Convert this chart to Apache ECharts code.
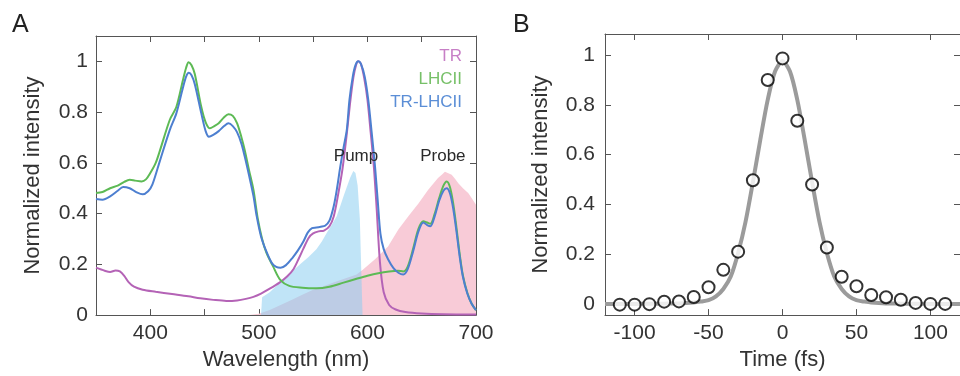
<!DOCTYPE html>
<html>
<head>
<meta charset="utf-8">
<style>
  html, body { margin: 0; padding: 0; background: #fff; }
  #chart { width: 960px; height: 376px; }
</style>
<script src="https://cdn.jsdelivr.net/npm/echarts@6/dist/echarts.min.js"></script>
</head>
<body>
<div id="chart"></div>
<script>
// ---- Panel A: absorption spectra (wavelength in nm, normalized intensity) ----
const trWl  = [350, 358, 363, 368, 372, 376, 380, 385, 393, 405, 420, 435, 446, 458, 470, 480, 488, 495, 502, 510, 519, 526, 532, 537, 541, 546, 550, 555, 560, 565, 569, 573, 577, 581, 584, 587, 589.5, 591.6, 594, 597, 600, 603, 606, 608.5, 611.5, 615, 620, 626, 635, 650, 670, 700];
const trVal = [0.187, 0.175, 0.170, 0.176, 0.172, 0.155, 0.130, 0.112, 0.100, 0.092, 0.083, 0.074, 0.066, 0.060, 0.056, 0.058, 0.064, 0.072, 0.085, 0.104, 0.128, 0.152, 0.182, 0.225, 0.262, 0.305, 0.322, 0.330, 0.333, 0.350, 0.390, 0.475, 0.575, 0.715, 0.835, 0.935, 0.985, 1.0, 0.99, 0.935, 0.85, 0.72, 0.58, 0.42, 0.21, 0.09, 0.04, 0.022, 0.012, 0.006, 0.003, 0.002];

const lhcWl  = [350, 356, 363, 370, 376, 381, 386, 392, 396, 400, 405, 409, 418, 424, 430, 433, 435.3, 438, 441, 447, 451, 455, 459, 463, 468, 472, 476, 480, 484, 487, 491, 495, 499, 503, 507, 513, 519.5, 528, 540, 553, 565, 578, 590, 600, 610, 620, 628, 633, 637, 642, 647, 651.5, 655, 658, 662, 666, 670, 673, 676, 679, 682, 685, 688, 692, 696, 700];
const lhcVal = [0.481, 0.485, 0.500, 0.510, 0.525, 0.533, 0.530, 0.527, 0.535, 0.560, 0.600, 0.650, 0.770, 0.820, 0.925, 0.975, 0.997, 0.985, 0.950, 0.820, 0.760, 0.736, 0.745, 0.756, 0.780, 0.792, 0.785, 0.756, 0.700, 0.650, 0.570, 0.494, 0.380, 0.300, 0.245, 0.193, 0.140, 0.115, 0.108, 0.106, 0.112, 0.128, 0.143, 0.155, 0.165, 0.172, 0.175, 0.172, 0.190, 0.260, 0.340, 0.370, 0.365, 0.360, 0.400, 0.460, 0.510, 0.527, 0.505, 0.440, 0.345, 0.240, 0.155, 0.088, 0.045, 0.020];

const mixWl  = [350, 356, 363, 370, 375, 381, 387, 393, 398, 402, 409, 418, 424, 430, 433, 435.5, 438, 441, 447, 451, 454, 458, 463, 468, 472, 476, 480, 484, 487, 491, 495, 498, 502, 507, 512, 516, 520, 525, 531, 536, 541, 545, 549, 553, 557, 561, 565, 569, 572, 575, 578, 581, 583.5, 586.5, 589, 591.6, 594, 597.5, 600.8, 604, 607, 609.5, 612, 615, 619, 624, 628.5, 633, 637, 642, 647, 651.5, 655, 658, 662, 666, 670, 673, 676, 679, 682, 685, 688, 692, 696, 700];
const mixVal = [0.458, 0.455, 0.468, 0.490, 0.505, 0.500, 0.485, 0.476, 0.488, 0.515, 0.610, 0.730, 0.795, 0.895, 0.940, 0.955, 0.945, 0.910, 0.795, 0.725, 0.703, 0.710, 0.725, 0.745, 0.756, 0.745, 0.720, 0.675, 0.625, 0.550, 0.470, 0.390, 0.310, 0.250, 0.205, 0.190, 0.187, 0.197, 0.226, 0.255, 0.290, 0.325, 0.343, 0.345, 0.348, 0.352, 0.372, 0.430, 0.500, 0.585, 0.660, 0.730, 0.850, 0.940, 0.985, 1.0, 0.990, 0.940, 0.847, 0.716, 0.585, 0.450, 0.320, 0.260, 0.220, 0.185, 0.167, 0.160, 0.180, 0.250, 0.330, 0.365, 0.355, 0.350, 0.390, 0.450, 0.490, 0.500, 0.480, 0.420, 0.330, 0.230, 0.150, 0.085, 0.045, 0.020];

// laser spectra drawn as filled areas
const pumpWl  = [502, 503, 510, 516, 522, 530, 538, 546, 553, 558, 562.5, 567, 571.7, 575, 578, 581, 584, 587, 589, 591, 593, 594.5, 595.5];
const pumpVal = [0, 0.07, 0.09, 0.115, 0.14, 0.17, 0.20, 0.23, 0.26, 0.29, 0.324, 0.355, 0.39, 0.43, 0.468, 0.505, 0.54, 0.568, 0.56, 0.51, 0.38, 0.15, 0];

const probeWl  = [490, 500, 510, 520, 530, 540, 550, 560, 570, 580, 590, 596, 607, 619, 628.5, 637.7, 647, 656, 665, 669, 671.4, 674, 677.6, 681, 683.7, 688, 693, 697, 700];
const probeVal = [0, 0.005, 0.02, 0.04, 0.06, 0.08, 0.10, 0.115, 0.13, 0.145, 0.16, 0.18, 0.22, 0.27, 0.337, 0.39, 0.44, 0.494, 0.54, 0.555, 0.565, 0.56, 0.553, 0.535, 0.52, 0.50, 0.48, 0.455, 0.435];

// ---- Panel B: pulse cross-correlation (time in fs) ----
const timeFs   = [-110, -100, -90, -80, -70, -60, -50, -40, -30, -20, -10, 0, 10, 20, 30, 40, 50, 60, 70, 80, 90, 100, 110];
const measured = [-0.003, -0.003, -0.001, 0.009, 0.01, 0.028, 0.067, 0.137, 0.21, 0.497, 0.90, 0.987, 0.736, 0.48, 0.227, 0.109, 0.071, 0.036, 0.027, 0.017, 0.004, 0.0, 0.0];

const fitT   = [-120, -100, -90, -80, -70, -60, -55, -50, -45, -40, -35, -30, -25, -20, -15, -10, -5, 0, 5, 10, 15, 20, 25, 30, 35, 40, 45, 50, 55, 60, 70, 80, 90, 100, 120];
const fitVal = [0, 0, 0.0005, 0.001, 0.002, 0.006, 0.01, 0.015, 0.03, 0.06, 0.11, 0.205, 0.33, 0.49, 0.66, 0.82, 0.935, 0.975, 0.935, 0.82, 0.66, 0.49, 0.33, 0.205, 0.11, 0.06, 0.03, 0.015, 0.01, 0.006, 0.002, 0.001, 0.0005, 0, 0];

const xTicksB = [-100, -50, 0, 50, 100];
const yTicks  = [0, 0.2, 0.4, 0.6, 0.8, 1];

const pairs = (xs, ys) => xs.map((x, i) => [x, ys[i]]);

const FONT = '"Liberation Sans", Arial, Helvetica, sans-serif';
const AXIS = '#555';
const TXT = '#333';

const COL_TR = '#b463b6';
const COL_LHC = '#5dba55';
const COL_MIX = '#4d7fd0';

function frameAxis(extra) {
  return Object.assign({
    type: 'value',
    axisLine: { show: true, onZero: false, lineStyle: { color: AXIS, width: 1 } },
    axisTick: { show: true, inside: true, length: 6, lineStyle: { color: AXIS, width: 1 } },
    splitLine: { show: false },
    nameTextStyle: { fontFamily: FONT, fontSize: 22, color: TXT }
  }, extra);
}
const labelStyle = { fontFamily: FONT, fontSize: 21, color: TXT };

const chart = echarts.init(document.getElementById('chart'), null, { renderer: 'canvas' });

chart.setOption({
  animation: false,
  backgroundColor: '#fff',
  title: [
    { text: 'A', left: 12, top: 13, padding: 0, textStyle: { fontFamily: FONT, fontSize: 25, fontWeight: 'normal', color: '#222' } },
    { text: 'B', left: 513, top: 13, padding: 0, textStyle: { fontFamily: FONT, fontSize: 25, fontWeight: 'normal', color: '#222' } }
  ],
  legend: {
    orient: 'vertical',
    right: 492,
    top: 48,
    padding: 0,
    align: 'right',
    itemWidth: 0,
    itemHeight: 0,
    itemGap: 6,
    selectedMode: false,
    textStyle: { fontFamily: FONT, fontSize: 17 },
    data: [
      { name: 'TR', textStyle: { color: '#c77fc6' } },
      { name: 'LHCII', textStyle: { color: '#77c068' } },
      { name: 'TR-LHCII', textStyle: { color: '#5b8ed6' } }
    ]
  },
  grid: [
    { left: 96, top: 36, width: 380, height: 280 },
    { left: 605, top: 34, width: 356, height: 282 }
  ],
  xAxis: [
    frameAxis({
      gridIndex: 0, position: 'bottom', min: 350, max: 700, interval: 50,
      axisLabel: Object.assign({ margin: 8, formatter: v => (v % 100 === 0 ? String(v) : '') }, labelStyle),
      name: 'Wavelength (nm)', nameLocation: 'middle', nameGap: 33
    }),
    frameAxis({
      gridIndex: 0, position: 'top', min: 350, max: 700, interval: 50,
      axisLabel: { show: false }
    }),
    frameAxis({
      gridIndex: 1, position: 'bottom', min: -120, max: 120,
      axisLabel: Object.assign({ margin: 8, customValues: xTicksB }, labelStyle),
      axisTick: { show: true, inside: true, length: 6, customValues: xTicksB, lineStyle: { color: AXIS, width: 1 } },
      name: 'Time (fs)', nameLocation: 'middle', nameGap: 33
    }),
    frameAxis({
      gridIndex: 1, position: 'top', min: -120, max: 120,
      axisLabel: { show: false },
      axisTick: { show: true, inside: true, length: 6, customValues: xTicksB, lineStyle: { color: AXIS, width: 1 } }
    })
  ],
  yAxis: [
    frameAxis({
      gridIndex: 0, position: 'left', min: 0, max: 1.1, interval: 0.2,
      axisLabel: Object.assign({ margin: 8, formatter: v => (v > 1.05 ? '' : String(+v.toFixed(1))) }, labelStyle),
      name: 'Normalized intensity', nameLocation: 'middle', nameGap: 52
    }),
    frameAxis({
      gridIndex: 0, position: 'right', min: 0, max: 1.1, interval: 0.2,
      axisLabel: { show: false }
    }),
    frameAxis({
      gridIndex: 1, position: 'left', min: -0.045, max: 1.085,
      axisLabel: Object.assign({ margin: 10, customValues: yTicks, formatter: v => String(+v.toFixed(1)) }, labelStyle),
      axisTick: { show: true, inside: true, length: 6, customValues: yTicks, lineStyle: { color: AXIS, width: 1 } },
      name: 'Normalized intensity', nameLocation: 'middle', nameGap: 53
    }),
    frameAxis({
      gridIndex: 1, position: 'right', min: -0.045, max: 1.085,
      axisLabel: { show: false },
      axisTick: { show: true, inside: true, length: 6, customValues: yTicks, lineStyle: { color: AXIS, width: 1 } }
    })
  ],
  series: [
    {
      name: 'Probe spectrum', type: 'line', xAxisIndex: 0, yAxisIndex: 0, z: 1,
      data: pairs(probeWl, probeVal), showSymbol: false, silent: true,
      lineStyle: { width: 0 }, areaStyle: { color: '#f8cbd7', opacity: 1 },
      markPoint: {
        symbol: 'circle', symbolSize: 0, silent: true, z: 20,
        label: { show: true, formatter: 'Probe', fontFamily: FONT, fontSize: 17, color: '#2a2a2a' },
        data: [{ coord: [669.5, 0.624] }]
      }
    },
    {
      name: 'Pump spectrum', type: 'line', xAxisIndex: 0, yAxisIndex: 0, z: 2,
      data: pairs(pumpWl, pumpVal), showSymbol: false, silent: true,
      lineStyle: { width: 0 }, areaStyle: { color: 'rgb(140,205,240)', opacity: 0.55 },
      markPoint: {
        symbol: 'circle', symbolSize: 0, silent: true, z: 20,
        label: { show: true, formatter: 'Pump', fontFamily: FONT, fontSize: 17, color: '#2a2a2a' },
        data: [{ coord: [589.5, 0.624] }]
      }
    },
    {
      name: 'TR', type: 'line', xAxisIndex: 0, yAxisIndex: 0, z: 3,
      data: pairs(trWl, trVal), showSymbol: false, smooth: 0.3,
      itemStyle: { color: COL_TR }, lineStyle: { color: COL_TR, width: 2 }
    },
    {
      name: 'LHCII', type: 'line', xAxisIndex: 0, yAxisIndex: 0, z: 4,
      data: pairs(lhcWl, lhcVal), showSymbol: false, smooth: 0.3,
      itemStyle: { color: COL_LHC }, lineStyle: { color: COL_LHC, width: 2 }
    },
    {
      name: 'TR-LHCII', type: 'line', xAxisIndex: 0, yAxisIndex: 0, z: 5,
      data: pairs(mixWl, mixVal), showSymbol: false, smooth: 0.3,
      itemStyle: { color: COL_MIX }, lineStyle: { color: COL_MIX, width: 2 }
    },
    {
      name: 'Fit', type: 'line', xAxisIndex: 2, yAxisIndex: 2, z: 3,
      data: pairs(fitT, fitVal), showSymbol: false, smooth: 0.3,
      lineStyle: { color: '#9b9b9b', width: 4 }
    },
    {
      name: 'Cross-correlation', type: 'scatter', xAxisIndex: 2, yAxisIndex: 2, z: 4,
      data: pairs(timeFs, measured), symbol: 'emptyCircle', symbolSize: 12,
      itemStyle: { color: '#000', borderColor: '#000', borderWidth: 2.5 }
    }
  ]
});
</script>
</body>
</html>
